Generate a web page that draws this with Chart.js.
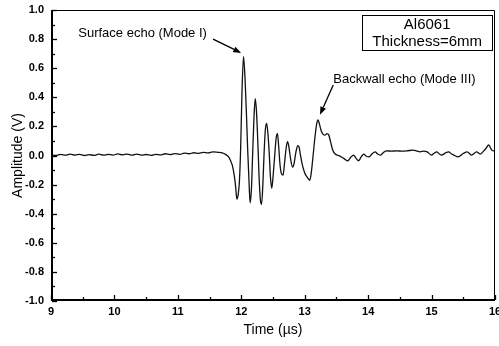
<!DOCTYPE html>
<html>
<head>
<meta charset="utf-8">
<script src="https://cdn.jsdelivr.net/npm/chart.js@4/dist/chart.umd.min.js"></script>
<style>
html,body{margin:0;padding:0;background:#fff;}
canvas{display:block;}
</style>
</head>
<body>
<canvas id="c" width="499" height="346"></canvas>
<script>
// ---- data ----
const timeUs = [
 9.00,9.08,9.15,9.23,9.30,9.38,9.45,9.53,9.60,9.68,9.75,9.83,9.90,9.98,
 10.05,10.13,10.20,10.28,10.35,10.43,10.50,10.58,10.65,10.73,10.80,10.88,10.95,
 11.03,11.10,11.18,11.25,11.33,11.40,11.48,11.55,11.63,11.70,11.75,11.80,11.83,
 11.86,11.89,11.91,11.93,11.95,11.97,11.99,12.01,12.035,12.06,12.08,12.10,12.12,
 12.14,12.16,12.18,12.20,12.22,12.24,12.26,12.28,12.30,12.32,12.34,12.36,12.38,
 12.40,12.42,12.44,12.46,12.48,12.50,12.52,12.55,12.57,12.59,12.61,12.63,12.66,
 12.68,12.71,12.73,12.75,12.78,12.81,12.83,12.86,12.89,12.91,12.93,12.96,13.00,
 13.04,13.08,13.10,13.13,13.16,13.19,13.21,13.23,13.26,13.29,13.32,13.35,13.38,
 13.41,13.44,13.48,13.53,13.58,13.63,13.68,13.72,13.77,13.81,13.85,13.89,13.93,
 13.97,14.01,14.06,14.11,14.15,14.19,14.24,14.29,14.37,14.45,14.53,14.61,14.71,
 14.77,14.82,14.88,14.93,15.00,15.04,15.08,15.12,15.16,15.22,15.27,15.31,15.35,
 15.42,15.50,15.56,15.63,15.71,15.77,15.82,15.86,15.90,15.95,16.00
];
const amplitudeV = [
 0.005,0.000,0.008,0.002,0.010,0.003,0.008,0.000,0.006,0.001,0.009,0.002,0.008,0.003,
 0.011,0.004,0.010,0.002,0.009,0.003,0.007,0.001,0.008,0.004,0.012,0.006,0.013,
 0.008,0.016,0.012,0.019,0.015,0.021,0.018,0.025,0.022,0.018,0.008,-0.010,-0.035,
 -0.070,-0.140,-0.210,-0.300,-0.270,-0.180,0.050,0.420,0.680,0.520,0.300,0.050,-0.160,
 -0.325,-0.230,0.020,0.260,0.390,0.300,0.100,-0.140,-0.300,-0.336,-0.200,0.020,0.180,
 0.220,0.150,0.020,-0.150,-0.225,-0.150,-0.040,0.120,0.150,0.060,-0.060,-0.120,-0.135,
 -0.060,0.060,0.095,0.060,-0.030,-0.080,-0.060,0.020,0.068,0.060,0.010,-0.060,-0.120,
 -0.150,-0.170,-0.130,-0.010,0.120,0.220,0.245,0.220,0.170,0.145,0.140,0.150,0.140,
 0.090,0.040,0.010,0.000,-0.010,-0.025,-0.036,-0.015,0.003,-0.020,-0.036,-0.010,0.010,
 -0.005,-0.010,0.010,0.025,0.010,0.003,0.020,0.032,0.030,0.032,0.030,0.032,0.037,
 0.030,0.025,0.030,0.025,0.003,0.015,0.025,0.012,0.003,0.018,0.025,0.012,0.003,
 -0.010,0.014,0.025,0.003,0.025,0.010,0.030,0.050,0.072,0.037,0.030
];
const xTickValues = [9,10,11,12,13,14,15,16];
const yTickValues = [-1.0,-0.8,-0.6,-0.4,-0.2,0.0,0.2,0.4,0.6,0.8,1.0];
const xAxisTitle = 'Time (\u00B5s)';
const yAxisTitle = 'Amplitude (V)';
const boxLines = ['Al6061','Thickness=6mm'];
const surfaceLabel = 'Surface echo (Mode I)';
const backwallLabel = 'Backwall echo (Mode III)';

const FONT = '"Liberation Sans", Arial, Helvetica, sans-serif';

// ---- decorations drawn through the chart's scales ----
const frame = {
  id: 'frame',
  beforeDraw(chart) {
    const c = chart.ctx;
    c.save(); c.fillStyle = '#fff'; c.fillRect(0,0,chart.width,chart.height); c.restore();
  },
  afterDatasetsDraw(chart) {
    const c = chart.ctx, a = chart.chartArea, xs = chart.scales.x, ys = chart.scales.y;
    c.save();
    c.strokeStyle = '#000';
    c.lineWidth = 1;
    c.beginPath();
    c.moveTo(a.left, a.top + 0.5); c.lineTo(a.right - 0.5, a.top + 0.5); c.lineTo(a.right - 0.5, a.bottom);
    c.stroke();
    c.lineWidth = 2;
    c.beginPath();
    c.moveTo(a.left + 1, a.top); c.lineTo(a.left + 1, a.bottom - 1); c.lineTo(a.right, a.bottom - 1);
    c.stroke();
    c.lineWidth = 1.3;
    for (let i = 0; i <= 14; i++) {
      const v = 9 + i * 0.5;
      const px = Math.round(xs.getPixelForValue(v)) + 0.5;
      const len = (i % 2 === 0) ? 5 : 3;
      c.beginPath(); c.moveTo(px, a.bottom - 1); c.lineTo(px, a.bottom - 1 - len); c.stroke();
    }
    for (let i = 0; i <= 20; i++) {
      const v = -1 + i * 0.1;
      const py = Math.round(ys.getPixelForValue(v)) + 0.5;
      const len = (i % 2 === 0) ? 5 : 3;
      c.beginPath(); c.moveTo(a.left + 1, py); c.lineTo(a.left + 1 + len, py); c.stroke();
    }

    const bx1 = xs.getPixelForValue(13.905), bx2 = xs.getPixelForValue(15.956);
    const by1 = ys.getPixelForValue(0.966), by2 = ys.getPixelForValue(0.725);
    c.lineWidth = 1;
    c.strokeRect(Math.round(bx1)+0.5, Math.round(by1)+0.5, Math.round(bx2-bx1), Math.round(by2-by1));
    c.fillStyle = '#000';
    c.font = '15px ' + FONT;
    c.textAlign = 'center'; c.textBaseline = 'middle';
    const cx = (bx1 + bx2) / 2;
    c.fillText(boxLines[0], cx, by1 + 9.5);
    c.fillText(boxLines[1], cx, by1 + 27);

    c.font = '13px ' + FONT;
    c.textAlign = 'left';
    c.fillText(surfaceLabel, xs.getPixelForValue(9.43), ys.getPixelForValue(0.84));
    c.fillText(backwallLabel, xs.getPixelForValue(13.45), ys.getPixelForValue(0.52));

    function arrow(t0, v0, t1, v1) {
      const x0 = xs.getPixelForValue(t0), y0 = ys.getPixelForValue(v0);
      const x1 = xs.getPixelForValue(t1), y1 = ys.getPixelForValue(v1);
      const ang = Math.atan2(y1 - y0, x1 - x0);
      const hl = 8, hw = 3;
      c.lineWidth = 1.3;
      c.beginPath(); c.moveTo(x0, y0);
      c.lineTo(x1 - hl * Math.cos(ang), y1 - hl * Math.sin(ang)); c.stroke();
      c.beginPath();
      c.moveTo(x1, y1);
      c.lineTo(x1 - hl * Math.cos(ang) + hw * Math.sin(ang), y1 - hl * Math.sin(ang) - hw * Math.cos(ang));
      c.lineTo(x1 - hl * Math.cos(ang) - hw * Math.sin(ang), y1 - hl * Math.sin(ang) + hw * Math.cos(ang));
      c.closePath(); c.fill();
    }
    arrow(11.555, 0.80, 12.0, 0.705);
    arrow(13.45, 0.485, 13.24, 0.28);
    c.restore();
  }
};

new Chart(document.getElementById('c'), {
  type: 'line',
  data: {
    datasets: [{
      data: timeUs.map((t, i) => ({x: t, y: amplitudeV[i]})),
      borderColor: '#111',
      borderWidth: 1.3,
      pointRadius: 0,
      fill: false,
      cubicInterpolationMode: 'monotone'
    }]
  },
  options: {
    responsive: false,
    animation: false,
    events: [],
    layout: {padding: {top: 10, right: 4, left: 0, bottom: 0}},
    plugins: {legend: {display: false}, tooltip: {enabled: false}},
    scales: {
      x: {
        type: 'linear', min: 9, max: 16,
        afterBuildTicks(s) { s.ticks = xTickValues.map(v => ({value: v})); },
        ticks: {color: '#000', padding: 4, maxRotation: 0,
                font: {family: FONT, size: 11, weight: 'bold'},
                callback: v => String(v)},
        grid: {display: false, drawTicks: false, tickLength: 0},
        border: {display: false},
        title: {display: true, text: xAxisTitle, color: '#000',
                font: {family: FONT, size: 14}, padding: {top: 0, bottom: 7}},
        afterFit(s) { s.height = 45; s.paddingLeft = 0; s.paddingRight = 0; }
      },
      y: {
        type: 'linear', min: -1, max: 1,
        afterBuildTicks(s) { s.ticks = yTickValues.map(v => ({value: v})); },
        ticks: {color: '#000', padding: 7,
                font: {family: FONT, size: 11, weight: 'bold'},
                callback: v => Number(v).toFixed(1)},
        grid: {display: false, drawTicks: false, tickLength: 0},
        border: {display: false},
        title: {display: true, text: yAxisTitle, color: '#000',
                font: {family: FONT, size: 14}, padding: {top: 10, bottom: 0}},
        afterFit(s) { s.width = 51; s.paddingTop = 0; s.paddingBottom = 0; }
      }
    }
  },
  plugins: [frame]
});
</script>
</body>
</html>
